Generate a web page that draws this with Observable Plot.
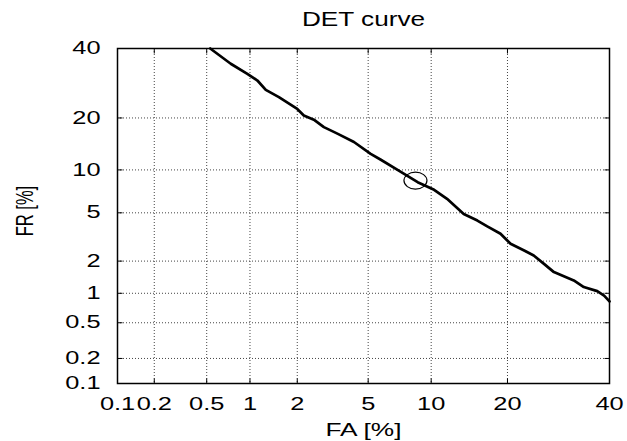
<!DOCTYPE html>
<html>
<head>
<meta charset="utf-8">
<script src="https://cdn.jsdelivr.net/npm/d3@7"></script>
<script src="https://cdn.jsdelivr.net/npm/@observablehq/plot@0.6"></script>
<style>
  html, body { margin: 0; padding: 0; background: #fff; }
</style>
</head>
<body>
<div id="chart"></div>
<script>
// ---- data (percent) ----
const faValues = [0.53, 0.74, 0.96, 1.12, 1.27, 1.54, 2.0, 2.19, 2.51, 2.87, 3.42, 4.21, 5.15, 5.8, 7.1, 8.7, 10.3, 11.7, 13.7, 15.5, 16.9, 18.9, 20.5, 22.8, 24.5, 26.4, 28.3, 32.3, 34.4, 37.3, 38.8, 40];
const frValues = [40, 35.1, 32.0, 30.0, 27.3, 25.3, 22.2, 20.6, 19.6, 17.9, 16.5, 14.8, 12.6, 11.6, 9.9, 8.3, 7.35, 6.35, 4.9, 4.36, 3.92, 3.42, 2.83, 2.48, 2.24, 1.89, 1.59, 1.33, 1.15, 1.05, 0.95, 0.83];
const eerFA = [8.5];
const eerFR = [8.5];
const xTickValues = [0.1, 0.2, 0.5, 1, 2, 5, 10, 20, 40];
const yTickValues = [0.1, 0.2, 0.5, 1, 2, 5, 10, 20, 40];
const xTickLabels = ["0.1", "0.2", "0.5", "1", "2", "5", "10", "20", "40"];
const yTickLabels = ["0.1", "0.2", "0.5", "1", "2", "5", "10", "20", "40"];
const xGridValues = [0.2, 0.5, 1, 2, 5, 10, 20];
const yGridValues = [0.2, 0.5, 1, 2, 5, 10, 20];
const titleText = "DET curve";
const xLabel = "FA [%]";
const yLabel = "FR [%]";

// ---- inverse normal CDF (Acklam) ----
function probit(p) {
  const a = [-3.969683028665376e+01, 2.209460984245205e+02, -2.759285104469687e+02, 1.383577518672690e+02, -3.066479806614716e+01, 2.506628277459239e+00];
  const b = [-5.447609879822406e+01, 1.615858368580409e+02, -1.556989798598866e+02, 6.680131188771972e+01, -1.328068155288572e+01];
  const c = [-7.784894002430293e-03, -3.223964580411365e-01, -2.400758277161838e+00, -2.549732539343734e+00, 4.374664141464968e+00, 2.938163982698783e+00];
  const d = [7.784695709041462e-03, 3.224671290700398e-01, 2.445134137142996e+00, 3.754408661907416e+00];
  const plow = 0.02425, phigh = 1 - plow;
  let q, r;
  if (p < plow) {
    q = Math.sqrt(-2 * Math.log(p));
    return (((((c[0]*q+c[1])*q+c[2])*q+c[3])*q+c[4])*q+c[5]) / ((((d[0]*q+d[1])*q+d[2])*q+d[3])*q+1);
  } else if (p <= phigh) {
    q = p - 0.5; r = q*q;
    return (((((a[0]*r+a[1])*r+a[2])*r+a[3])*r+a[4])*r+a[5])*q / (((((b[0]*r+b[1])*r+b[2])*r+b[3])*r+b[4])*r+1);
  } else {
    q = Math.sqrt(-2 * Math.log(1 - p));
    return -(((((c[0]*q+c[1])*q+c[2])*q+c[3])*q+c[4])*q+c[5]) / ((((d[0]*q+d[1])*q+d[2])*q+d[3])*q+1);
  }
}
const pz = v => probit(v / 100);

const curve = faValues.map((fa, i) => ({x: pz(fa), y: pz(frValues[i])}));
const eer = eerFA.map((fa, i) => ({x: pz(fa), y: pz(eerFR[i])}));
const xTicksZ = xTickValues.map(pz);
const yTicksZ = yTickValues.map(pz);
const xLabelMap = new Map(xTicksZ.map((z, i) => [z, xTickLabels[i]]));
const yLabelMap = new Map(yTicksZ.map((z, i) => [z, yTickLabels[i]]));
const xMin = pz(0.1), xMax = pz(40), yMin = pz(0.1), yMax = pz(40);

// small tick symbols (inward)
const tickUp = {draw(ctx) { ctx.moveTo(0, 0); ctx.lineTo(0, -5); }};
const tickDown = {draw(ctx) { ctx.moveTo(0, 0); ctx.lineTo(0, 5); }};
const tickRight = {draw(ctx) { ctx.moveTo(0, 0); ctx.lineTo(5, 0); }};
const tickLeft = {draw(ctx) { ctx.moveTo(0, 0); ctx.lineTo(-5, 0); }};
const ellipse = {draw(ctx) {
  const rx = 11.5, ry = 8.5, k = 0.5523;
  ctx.moveTo(rx, 0);
  ctx.bezierCurveTo(rx, ry*k, rx*k, ry, 0, ry);
  ctx.bezierCurveTo(-rx*k, ry, -rx, ry*k, -rx, 0);
  ctx.bezierCurveTo(-rx, -ry*k, -rx*k, -ry, 0, -ry);
  ctx.bezierCurveTo(rx*k, -ry, rx, -ry*k, rx, 0);
  ctx.closePath();
}};

const gridStyle = {stroke: "#444", strokeWidth: 1, strokeDasharray: "1,2"};

const chart = Plot.plot({
  width: 627,
  height: 441,
  marginLeft: 117,
  marginRight: 18,
  marginTop: 48,
  marginBottom: 58,
  style: {fontFamily: "'Liberation Sans', Arial, sans-serif", fontSize: "17.5px", background: "#fff", color: "#000"},
  x: {domain: [xMin, xMax], ticks: xTicksZ, tickFormat: d => xLabelMap.get(d), tickSize: 0, tickPadding: 14, label: null},
  y: {domain: [yMin, yMax], ticks: yTicksZ, tickFormat: d => yLabelMap.get(d), tickSize: 0, tickPadding: 17, label: null},
  marks: [
    Plot.ruleX(xGridValues.map(pz), {x: d => d, ...gridStyle}),
    Plot.ruleY(yGridValues.map(pz), {y: d => d, ...gridStyle}),
    Plot.dot(xTicksZ, {x: d => d, y: () => yMin, symbol: tickUp, stroke: "black", strokeWidth: 1}),
    Plot.dot(xTicksZ, {x: d => d, y: () => yMax, symbol: tickDown, stroke: "black", strokeWidth: 1}),
    Plot.dot(yTicksZ, {y: d => d, x: () => xMin, symbol: tickRight, stroke: "black", strokeWidth: 1}),
    Plot.dot(yTicksZ, {y: d => d, x: () => xMax, symbol: tickLeft, stroke: "black", strokeWidth: 1}),
    Plot.line(curve, {x: "x", y: "y", stroke: "black", strokeWidth: 2.7, strokeLinejoin: "round"}),
    Plot.dot(eer, {x: "x", y: "y", symbol: ellipse, stroke: "black", strokeWidth: 1.2, fill: "none"}),
    Plot.frame({stroke: "black", strokeWidth: 1.5}),
    Plot.text([titleText], {text: d => d, frameAnchor: "top", lineAnchor: "middle", dy: -28.5, fontSize: 20}),
    Plot.text([xLabel], {text: d => d, frameAnchor: "bottom", lineAnchor: "middle", textAnchor: "middle", dy: 47, fontSize: 18}),
    Plot.text([yLabel], {text: d => d, frameAnchor: "left", lineAnchor: "middle", textAnchor: "middle", dx: -92, dy: -5, rotate: -90, fontSize: 16.5})
  ]
});
document.getElementById("chart").appendChild(chart);

// The reference renders its text horizontally widened; reproduce via textLength.
const stretch = {[titleText]: 1.31, [xLabel]: 1.46};
chart.querySelectorAll("text").forEach(t => {
  const s = t.textContent;
  if (s === yLabel) {
    const tr = t.getAttribute("transform") || "";
    t.setAttribute("transform", tr + " scale(1,1.4)");
    return;
  }
  const f = stretch[s] || 1.45;
  const len = t.getComputedTextLength();
  if (len > 0) {
    t.setAttribute("textLength", (len * f).toFixed(2));
    t.setAttribute("lengthAdjust", "spacingAndGlyphs");
  }
});
</script>
</body>
</html>
